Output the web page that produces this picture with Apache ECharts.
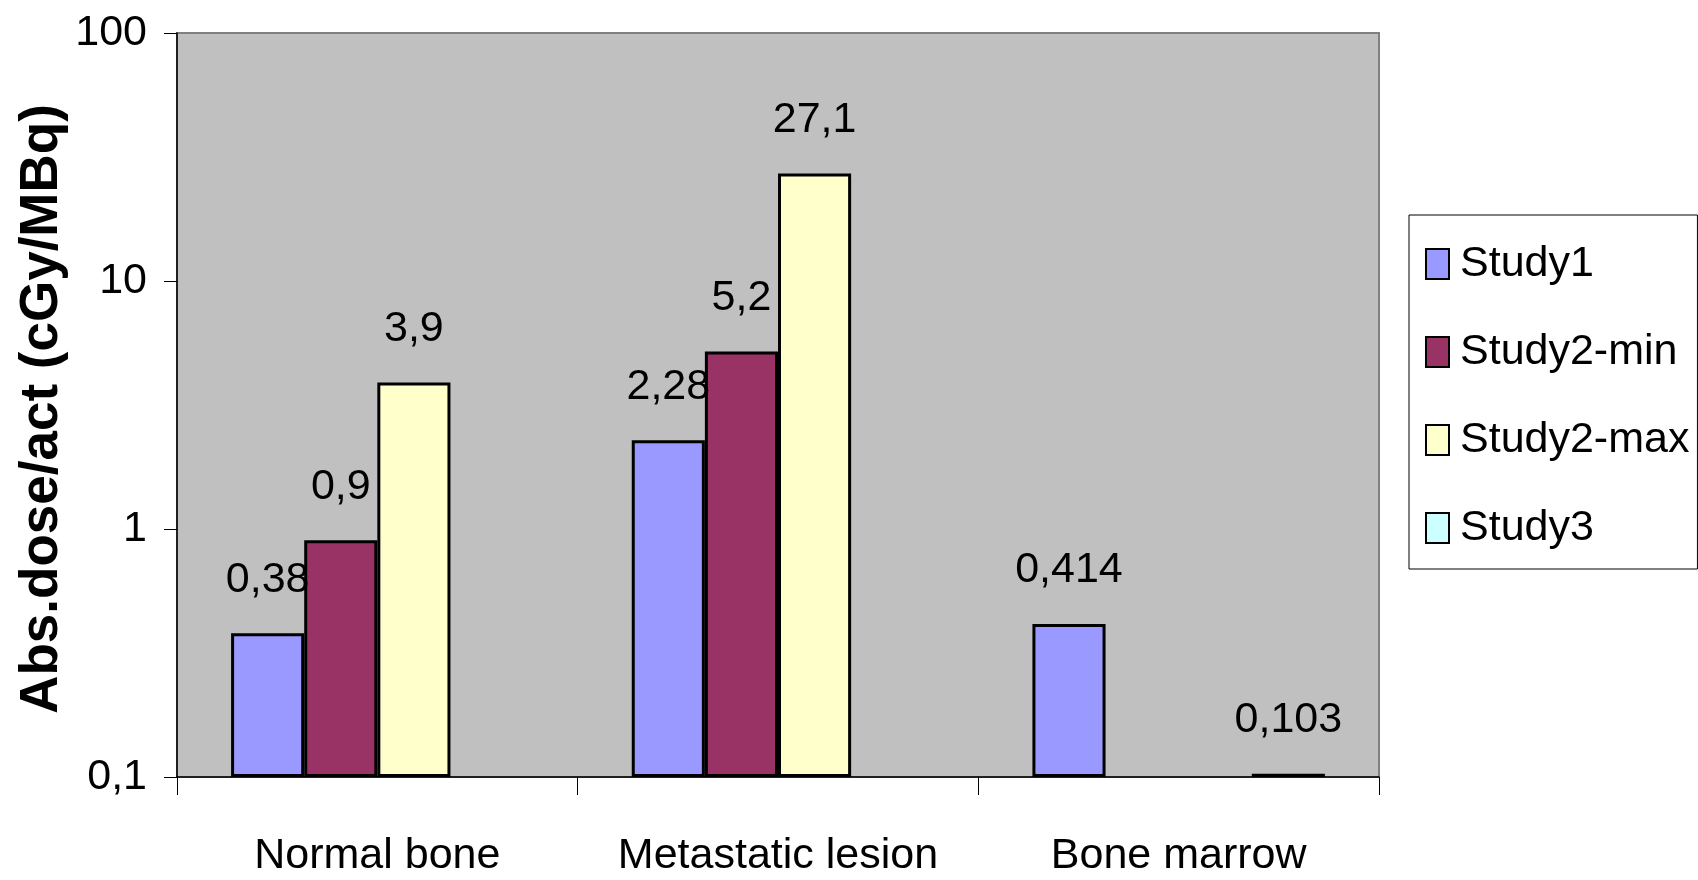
<!DOCTYPE html>
<html>
<head>
<meta charset="utf-8">
<script src="https://cdn.jsdelivr.net/npm/echarts@6/dist/echarts.min.js"></script>
<style>
  html, body { margin: 0; padding: 0; background: #fff; }
  #chart { width: 1698px; height: 880px; }
</style>
</head>
<body>
<div id="chart"></div>
<script>
var categories = ['Normal bone', 'Metastatic lesion', 'Bone marrow'];
var study1 = [0.38, 2.28, 0.414];
var study2min = [0.9, 5.2, null];
var study2max = [3.9, 27.1, null];
var study3 = [null, null, 0.103];
var yTicks = [0.1, 1, 10, 100];

var font = "'Liberation Sans', Arial, sans-serif";

function comma(v) {
  return String(v).replace('.', ',');
}

var chartDom = document.getElementById('chart');
var myChart = echarts.init(chartDom);

function makeSeries(name, data, color) {
  return {
    name: name,
    type: 'bar',
    data: data,
    barGap: 0,
    barCategoryGap: '27%',
    itemStyle: {
      color: color,
      borderColor: '#000',
      borderWidth: 3
    },
    label: {
      show: true,
      position: 'top',
      distance: 32,
      color: '#000',
      fontFamily: font,
      fontSize: 43,
      formatter: function (p) { return comma(p.value); }
    }
  };
}

var option = {
  animation: false,
  grid: {
    left: 177,
    top: 33,
    right: 319,
    bottom: 103,
    show: true,
    backgroundColor: '#C0C0C0',
    borderColor: '#808080',
    borderWidth: 2
  },
  legend: {
    orient: 'vertical',
    left: 1409,
    top: 215,
    padding: [27, 8, 19, 16],
    itemGap: 44,
    itemWidth: 23,
    itemHeight: 30,
    icon: 'rect',
    borderColor: '#000',
    borderWidth: 1,
    backgroundColor: '#fff',
    textStyle: {
      fontFamily: font,
      fontSize: 43,
      lineHeight: 44,
      color: '#000',
      padding: [0, 0, 0, 6]
    }
  },
  graphic: [{
    type: 'text',
    x: 42,
    y: 409,
    rotation: Math.PI / 2,
    style: {
      text: 'Abs.dose/act (cGy/MBq)',
      fontFamily: font,
      fontWeight: 'bold',
      fontSize: 53,
      fill: '#000',
      textAlign: 'center',
      textVerticalAlign: 'middle'
    }
  }],
  xAxis: {
    type: 'category',
    data: categories,
    axisLine: { lineStyle: { color: '#000', width: 1.5 } },
    axisTick: { show: true, interval: 0, length: 18, lineStyle: { color: '#000' } },
    axisLabel: {
      interval: 0,
      color: '#000',
      fontFamily: font,
      fontSize: 43,
      margin: 58
    }
  },
  yAxis: {
    type: 'log',
    logBase: 10,
    min: yTicks[0],
    max: yTicks[yTicks.length - 1],
    startValue: 0.1,
    axisLine: { show: true, lineStyle: { color: '#000', width: 1.5 } },
    axisTick: { show: true, length: 13, lineStyle: { color: '#000' } },
    splitLine: { show: false },
    axisLabel: {
      color: '#000',
      fontFamily: font,
      fontSize: 43,
      margin: 30,
      formatter: function (v) { return comma(v); }
    }
  },
  series: [
    makeSeries('Study1', study1, '#9999FF'),
    makeSeries('Study2-min', study2min, '#993366'),
    makeSeries('Study2-max', study2max, '#FFFFCC'),
    makeSeries('Study3', study3, '#CCFFFF')
  ]
};

myChart.setOption(option);

window.onresize = () => {
  myChart.resize();
}
</script>
</body>
</html>
